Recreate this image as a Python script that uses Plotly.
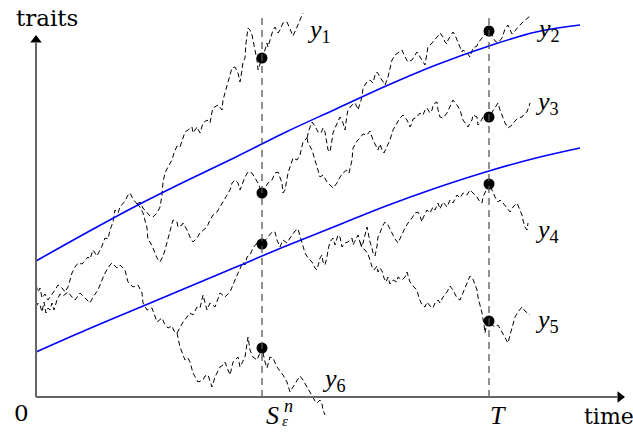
import plotly.graph_objects as go

# ---- data (arbitrary time / trait units) ----
S_TIME = 226
T_TIME = 453

# upper ancestral trunk
U_t = [0,2,4,6,9,12,14,17,19,22,26,29,32,34,36,39,42,46,49,52,54,57,61,64,66,69,72,74,77,79,82,84,89,92,94,97,101]
U_z = [112,105,109,99,103,97,100,104,107,112,109,105,110,117,124,130,134,133,137,140,138,147,141,147,151,159,158,167,175,187,184,190,196,202,204,198,193]

# y1 branch
y1_t = [104,107,111,114,117,121,124,126,127,129,132,136,138,141,144,147,149,152,156,157,161,164,167,171,174,176,177,182,186,187,189,192,194,196,199,202,204,206,207,209,210,212,214,216,218,221,222,224,226,229,231,232,234,237,239,242,244,247,251,254,257,261,264,267]
y1_z = [195,189,184,181,180,184,190,202,215,224,230,237,244,251,250,259,265,267,270,264,270,264,274,277,274,285,289,292,287,297,305,317,322,329,330,324,315,327,335,339,354,369,367,362,352,337,327,334,339,347,354,350,357,367,370,364,367,374,375,367,361,370,377,384]

# branch descending then rising to the ancestor of y2, y3
D_t = [104,107,109,111,112,114,117,121,124,127,129,131,134,137,141,142,146,147,151,154,157,161,164,167,171,174,177,181,184,187,191,194,196,199,202,204,206,209,212,216,219,222,226,229,232,236,239,242,244,246,247,249,252,254,257,261,264,267,271]
D_z = [190,184,175,169,157,155,149,139,135,141,147,154,165,177,175,170,172,174,167,160,155,159,164,167,170,177,182,185,190,195,202,207,214,217,214,207,212,220,225,224,219,214,204,209,214,217,224,225,220,214,204,207,224,230,239,237,242,255,259]

y2_t = [273,276,279,282,285,287,289,292,294,296,297,299,301,304,307,309,311,312,316,319,321,322,326,327,331,334,337,339,341,344,347,349,352,356,359,362,366,369,372,376,379,381,384,387,389,391,392,396,399,402,404,407,409,411,412,416,417,419,421,424,426,427,431,434,436,437,441,442,446,449,453,456,459,462,466,469,472,474,476,479,482,487,494]
y2_z = [267,275,271,265,264,269,265,247,245,257,264,269,274,280,274,267,282,287,292,294,290,287,300,309,315,317,314,322,325,320,314,312,320,337,342,344,347,340,335,337,342,345,340,335,332,344,350,354,357,361,364,360,355,353,357,363,365,362,357,350,345,347,344,340,345,349,351,354,359,363,366,362,356,354,359,368,372,367,363,366,370,375,381]

y3_t = [272,276,279,282,284,287,291,294,297,301,304,307,311,313,316,317,321,324,327,331,334,337,341,342,344,346,348,351,354,357,361,364,367,371,374,376,377,381,384,387,389,391,394,396,397,399,401,402,404,407,411,414,417,421,424,427,431,432,434,436,437,441,442,444,447,451,453,456,459,462,464,466,469,472,476,479,482,486,489,491,494]
y3_z = [254,247,237,227,220,222,215,212,209,214,220,224,227,224,237,249,256,259,263,262,266,257,250,247,253,247,244,250,257,267,274,279,282,277,270,274,278,280,284,282,287,289,284,287,291,294,295,287,280,279,284,290,297,292,287,277,272,270,274,277,282,280,272,274,280,282,280,285,290,294,287,281,274,269,272,276,279,280,284,285,294]

# lower ancestral trunk
L_t = [0,2,4,6,8,10,12,14,16,18,21,24,27,32,36,39,44,49,54,57,62,66,69,74,76,81,84,89,92,97,102,106,107,111,116,121,126,129,132,136,138,141]
L_z = [90,94,92,85,95,84,89,87,94,87,97,103,101,105,100,97,104,99,94,100,107,117,124,132,134,129,132,127,115,110,112,104,94,87,89,75,79,72,69,71,66,64]

y6_t = [144,147,149,152,154,157,162,167,169,172,176,179,184,187,189,194,197,202,204,209,212,214,217,221,224,226,229,231,234,237,241,244,247,251,254,257,261,264,267,271,274,277,279,281,284,286,287,289]
y6_z = [50,42,37,39,35,24,15,17,21,22,10,20,30,32,35,22,35,40,30,40,60,47,40,37,45,49,35,29,40,39,30,26,22,15,5,10,16,21,17,10,4,0,-4,-6,-3,-7,-13,-18]

# ancestor of y4, y5
M_t = [144,147,151,154,157,161,164,167,171,174,179,184,189,194,199,204,207,209,211,214,217,221,224,226,229,232,236,239,241,244,247,251,254,256,259,262,266,269,272,276,279,281,284,286,287,289,291,292,294,297,299,302,304,306,309,312,316,317,321,322,324]
M_z = [69,75,80,84,82,90,89,102,87,94,90,104,100,105,117,129,135,132,140,142,149,154,157,153,157,160,165,165,157,150,157,154,159,162,166,168,154,144,139,135,129,127,139,142,135,132,140,147,155,159,152,162,160,150,154,155,159,152,160,162,155]

y4_t = [326,327,329,331,332,334,336,337,339,341,342,344,346,349,352,356,359,362,366,369,372,376,379,382,384,386,387,391,394,397,399,402,404,407,411,414,417,421,424,427,431,434,437,441,444,446,447,449,451,453,456,459,462,464,467,471,474,477,481,484,486,487,489,491,492]
y4_z = [150,154,161,170,165,155,149,144,141,151,160,164,170,175,172,164,158,154,163,169,174,179,184,185,181,175,179,187,184,190,187,194,188,195,190,197,194,202,199,204,202,207,204,200,195,194,200,205,210,213,207,200,195,197,194,189,185,190,194,187,182,177,170,167,174]

y5_t = [326,329,332,334,336,338,341,342,344,346,348,350,352,354,357,361,362,366,369,371,372,374,377,381,383,386,389,391,394,397,399,402,404,407,411,414,417,421,424,427,431,434,437,441,442,444,446,448,449,451,453,456,459,462,466,469,472,474,476,479,482,486,489,494]
y5_z = [149,147,143,137,130,127,131,125,129,126,119,115,120,113,117,115,120,117,120,125,121,115,111,107,99,92,90,95,91,89,94,97,94,100,105,111,107,99,97,104,114,121,118,107,100,92,84,72,64,75,76,72,70,72,65,60,54,62,70,80,85,90,86,82]

# blue boundary curves
bound_t = [0,50,100,150,200,250,300,350,400,453,500,544]
upper_z = [136,164,191,216,240,265,288,311,332,351,365,372]
lower_z = [45,67,88,109,130,151,171,191,209,226,239,249]

# marked positions at S and T
dot_t = [S_TIME]*4 + [T_TIME]*4
dot_z = [339,204,153,49,366,280,213,76]

labels = ["y1","y2","y3","y4","y5","y6"]

# ---- figure ----
fig = go.Figure()
PATH_STYLE = dict(color="black", width=1, dash="5px,3px")

def add_path(t, z, parent=None):
    if parent is not None:
        t = [parent[0][-1]] + t
        z = [parent[1][-1]] + z
    fig.add_trace(go.Scatter(x=t, y=z, mode="lines", line=PATH_STYLE,
                             hoverinfo="skip", showlegend=False))

U = (U_t, U_z); D = (D_t, D_z); L = (L_t, L_z); M = (M_t, M_z)
add_path(U_t, U_z)
add_path(y1_t, y1_z, U)
add_path(D_t, D_z, U)
add_path(y2_t, y2_z, D)
add_path(y3_t, y3_z, D)
add_path(L_t, L_z)
add_path(y6_t, y6_z, L)
add_path(M_t, M_z, L)
add_path(y4_t, y4_z, M)
add_path(y5_t, y5_z, M)

for zz in (upper_z, lower_z):
    fig.add_trace(go.Scatter(x=bound_t, y=zz, mode="lines", line_shape="spline",
                             line=dict(color="#0000ff", width=1.6),
                             hoverinfo="skip", showlegend=False))

fig.add_trace(go.Scatter(x=dot_t, y=dot_z, mode="markers",
                         marker=dict(color="black", size=11),
                         hoverinfo="skip", showlegend=False))

# dashed time markers
for tt in (S_TIME, T_TIME):
    fig.add_shape(type="line", x0=tt, x1=tt, y0=0, y1=384, xref="x", yref="y",
                  line=dict(color="#555555", width=1.3, dash="7px,5px"))

# axes with arrowheads
AX_COLOR = "#666666"
fig.add_shape(type="line", x0=0, x1=582, y0=0, y1=0, xref="x", yref="y",
              line=dict(color=AX_COLOR, width=2))
fig.add_shape(type="line", x0=0, x1=0, y0=0, y1=354, xref="x", yref="y",
              line=dict(color=AX_COLOR, width=2))
fig.add_trace(go.Scatter(x=[584], y=[0], mode="markers",
                         marker=dict(symbol="triangle-right", size=10, color="black"),
                         hoverinfo="skip", showlegend=False))
fig.add_trace(go.Scatter(x=[0], y=[357], mode="markers",
                         marker=dict(symbol="triangle-up", size=10, color="black"),
                         hoverinfo="skip", showlegend=False))

TXT = dict(family="DejaVu Serif", size=23, color="black")
MATH = dict(family="Liberation Serif", size=26, color="black")

fig.add_annotation(x=-22, y=379, text="traits", showarrow=False, xanchor="left",
                   yanchor="middle", font=TXT)
fig.add_annotation(x=546, y=-19, text="time", showarrow=False, xanchor="left",
                   yanchor="middle", font=dict(family="DejaVu Serif", size=22, color="black"))
fig.add_annotation(x=-15, y=-16, text="0", showarrow=False, xanchor="center",
                   yanchor="middle", font=TXT)
fig.add_annotation(x=462, y=-18, text="<i>T</i>", showarrow=False, font=MATH)
fig.add_annotation(x=236, y=-18, text="<i>S</i>", showarrow=False, font=MATH)
fig.add_annotation(x=252, y=-9, text="<i>n</i>", showarrow=False,
                   font=dict(family="Liberation Serif", size=18, color="black"))
fig.add_annotation(x=249, y=-24, text="<i>ε</i>", showarrow=False,
                   font=dict(family="Liberation Serif", size=15, color="black"))

label_pos = [(283, 366), (512, 367), (511, 294), (511, 166), (511, 76), (298, 17)]
for name, (lx, lz) in zip(labels, label_pos):
    fig.add_annotation(x=lx, y=lz, text=f"<i>{name[0]}</i><sub>{name[1]}</sub>",
                       showarrow=False, font=MATH)

fig.update_layout(
    width=633, height=432,
    margin=dict(l=0, r=0, t=0, b=0),
    paper_bgcolor="white", plot_bgcolor="white",
    xaxis=dict(range=[-36, 597], visible=False, fixedrange=True),
    yaxis=dict(range=[-35, 397], visible=False, fixedrange=True),
    showlegend=False,
)

fig.write_html("out.html", config={"displayModeBar": False},
               post_script="document.body.style.margin='0';document.body.style.overflow='hidden';")
